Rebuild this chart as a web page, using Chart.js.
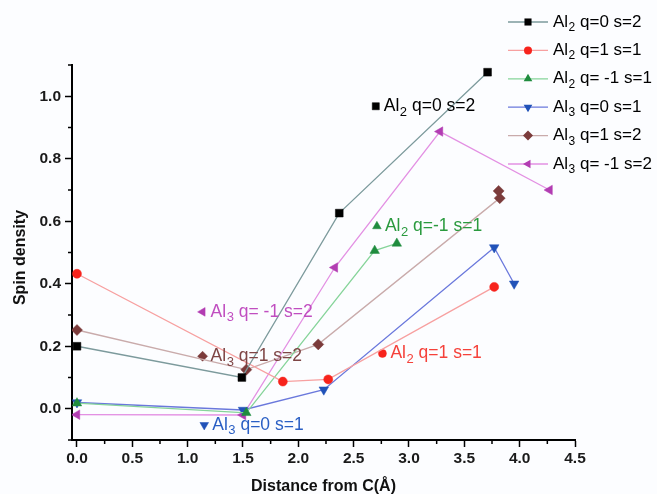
<!DOCTYPE html>
<html>
<head>
<meta charset="UTF-8">
<title>Spin density vs distance from C</title>
<script src="https://cdn.jsdelivr.net/npm/chart.js"></script>
<style>
  html, body { margin: 0; padding: 0; background: #fcfdff; }
  #wrap { width: 657px; height: 494px; }
</style>
</head>
<body>
<div id="wrap"><canvas id="spinChart"></canvas></div>
<script>
// distance from C (Å) / spin density, one pair of arrays per cluster state
const al2q0x  = [0.0, 1.49, 2.37, 3.71];
const al2q0y  = [0.20, 0.10, 0.626, 1.077];
const al2q1x  = [0.0, 1.86, 2.27, 3.77];
const al2q1y  = [0.432, 0.087, 0.094, 0.39];
const al2qm1x = [0.0, 1.53, 2.69, 2.89];
const al2qm1y = [0.018, -0.013, 0.506, 0.529];
const al3q0x  = [0.0, 1.50, 2.23, 3.77, 3.95];
const al3q0y  = [0.02, -0.004, 0.061, 0.516, 0.40];
const al3q1x  = [0.0, 1.53, 2.18, 3.82, 3.81];
const al3q1y  = [0.252, 0.125, 0.206, 0.674, 0.697];
const al3qm1x = [0.0, 1.50, 2.33, 3.28, 4.27];
const al3qm1y = [-0.019, -0.02, 0.452, 0.887, 0.70];

// legend names: "Al" + subscript + rest
const seriesSub  = ['2', '2', '2', '3', '3', '3'];
const seriesRest = [' q=0 s=2', ' q=1 s=1', ' q= -1 s=1', ' q=0 s=1', ' q=1 s=2', ' q= -1 s=2'];

// in-plot labels (data coords of the marker), which series they belong to
const noteSeries = [0, 2, 1, 4, 5, 3];
const noteX      = [2.70, 2.71, 2.76, 1.135, 1.135, 1.15];
const noteY      = [0.968, 0.584, 0.177, 0.168, 0.31, -0.052];
const noteRest   = [' q=0 s=2', ' q=-1 s=1', ' q=1 s=1', ' q=1 s=2', ' q= -1 s=2', ' q=0 s=1'];

// axis ticks
const xTickValues = [0, 0.25, 0.5, 0.75, 1, 1.25, 1.5, 1.75, 2, 2.25, 2.5, 2.75, 3, 3.25, 3.5, 3.75, 4, 4.25, 4.5];
const xTickLabels = ['0.0', '0.5', '1.0', '1.5', '2.0', '2.5', '3.0', '3.5', '4.0', '4.5'];
const yTickValues = [-0.1, 0, 0.1, 0.2, 0.3, 0.4, 0.5, 0.6, 0.7, 0.8, 0.9, 1.0, 1.1];
const yTickLabels = ['0.0', '0.2', '0.4', '0.6', '0.8', '1.0'];

const xTitle = 'Distance from C(Å)';
const yTitle = 'Spin density';

const xs = [al2q0x, al2q1x, al2qm1x, al3q0x, al3q1x, al3qm1x];
const ys = [al2q0y, al2q1y, al2qm1y, al3q0y, al3q1y, al3qm1y];

const lineColors   = ['#7c9a9c', '#f7a0a0', '#86d49a', '#6a78dc', '#c9abab', '#e390e3'];
const markColors   = ['#000000', '#f7231c', '#1f8c3e', '#2152b8', '#7b3b3b', '#b23cb2'];
const textColors   = ['#000000', '#f5413a', '#2a9a3e', '#2a5fc4', '#7e4545', '#c04ec0'];
const markStyles   = ['rect', 'circle', 'triangle', 'triangle', 'rectRot', 'triangle'];
const markRotation = [0, 0, 0, 180, 0, 270];
const markRadius   = [5.5, 4.5, 5.5, 5.5, 5.5, 5.5];

const FONT = '"Liberation Sans", Arial, sans-serif';

const datasets = xs.map((xv, i) => ({
  data: xv.map((x, j) => ({ x: x, y: ys[i][j] })),
  showLine: true,
  borderColor: lineColors[i],
  borderWidth: 1.3,
  pointStyle: markStyles[i],
  rotation: markRotation[i],
  pointRadius: markRadius[i],
  pointBackgroundColor: markColors[i],
  pointBorderColor: markColors[i],
  pointBorderWidth: 0.5
}));

// markers of the in-plot labels
noteSeries.forEach((s, k) => {
  datasets.push({
    data: [{ x: noteX[k], y: noteY[k] }],
    showLine: false,
    pointStyle: markStyles[s],
    rotation: markRotation[s],
    pointRadius: markRadius[s] - 0.5,
    pointBackgroundColor: markColors[s],
    pointBorderColor: markColors[s],
    pointBorderWidth: 0.5
  });
});

function nearly(a, b) { return Math.abs(a - b) < 1e-6; }
function isMajorX(v) { return xTickLabels.some(l => nearly(parseFloat(l), v)); }
function isMajorY(v) { return yTickLabels.some(l => nearly(parseFloat(l), v)); }

function drawAlText(ctx, x, y, sub, rest, color, size) {
  ctx.fillStyle = color;
  ctx.textBaseline = 'middle';
  ctx.textAlign = 'left';
  ctx.font = size + 'px ' + FONT;
  ctx.fillText('Al', x, y);
  let cx = x + ctx.measureText('Al').width;
  ctx.font = Math.round(size * 0.72) + 'px ' + FONT;
  ctx.fillText(sub, cx + 0.5, y + size * 0.33);
  cx += ctx.measureText(sub).width + 0.5;
  ctx.font = size + 'px ' + FONT;
  ctx.fillText(rest, cx, y);
}

function drawMarker(ctx, style, rot, r, x, y, color) {
  ctx.save();
  ctx.translate(x, y);
  ctx.rotate(rot * Math.PI / 180);
  ctx.fillStyle = color;
  ctx.beginPath();
  if (style === 'rect') {
    const h = r * Math.SQRT1_2;
    ctx.rect(-h, -h, 2 * h, 2 * h);
  } else if (style === 'circle') {
    ctx.arc(0, 0, r, 0, Math.PI * 2);
  } else if (style === 'rectRot') {
    ctx.moveTo(0, -r); ctx.lineTo(r, 0); ctx.lineTo(0, r); ctx.lineTo(-r, 0);
  } else {
    ctx.moveTo(0, -r);
    ctx.lineTo(r * Math.sin(Math.PI * 2 / 3), r / 2);
    ctx.lineTo(-r * Math.sin(Math.PI * 2 / 3), r / 2);
  }
  ctx.closePath();
  ctx.fill();
  ctx.restore();
}

const extras = {
  id: 'extras',
  afterDraw(chart) {
    const ctx = chart.ctx;
    const xs_ = chart.scales.x, ys_ = chart.scales.y;
    const area = chart.chartArea;
    ctx.save();
    // minor ticks
    ctx.strokeStyle = '#000';
    ctx.lineWidth = 1.5;
    xs_.ticks.forEach(t => {
      if (isMajorX(t.value)) return;
      const px = xs_.getPixelForValue(t.value);
      ctx.beginPath(); ctx.moveTo(px, xs_.top); ctx.lineTo(px, xs_.top + 4); ctx.stroke();
    });
    ys_.ticks.forEach(t => {
      if (isMajorY(t.value)) return;
      const py = ys_.getPixelForValue(t.value);
      ctx.beginPath(); ctx.moveTo(ys_.right, py); ctx.lineTo(ys_.right - 4, py); ctx.stroke();
    });

    // axis titles
    ctx.fillStyle = '#111';
    ctx.font = 'bold 16px ' + FONT;
    ctx.textAlign = 'center';
    ctx.textBaseline = 'middle';
    ctx.fillText(xTitle, (area.left + area.right) / 2, 487);
    ctx.save();
    ctx.translate(21, (area.top + area.bottom) / 2 + 5);
    ctx.rotate(-Math.PI / 2);
    ctx.fillText(yTitle, 0, 0);
    ctx.restore();

    // in-plot labels
    noteSeries.forEach((s, k) => {
      const px = xs_.getPixelForValue(noteX[k]);
      const py = ys_.getPixelForValue(noteY[k]);
      drawAlText(ctx, px + 8, py, seriesSub[s], noteRest[k], textColors[s], 17.5);
    });

    // legend
    const lx0 = 508, lx1 = 548, ly0 = 22, step = 28.4;
    seriesRest.forEach((rest, i) => {
      const y = ly0 + i * step;
      ctx.strokeStyle = lineColors[i];
      ctx.lineWidth = 1.3;
      ctx.beginPath(); ctx.moveTo(lx0, y); ctx.lineTo(lx1, y); ctx.stroke();
      drawMarker(ctx, markStyles[i], markRotation[i], markRadius[i] - 0.5, (lx0 + lx1) / 2, y, markColors[i]);
      drawAlText(ctx, 553, y, seriesSub[i], rest, '#000', 17);
    });
    ctx.restore();
  }
};

new Chart(document.getElementById('spinChart'), {
  type: 'scatter',
  data: { datasets: datasets },
  options: {
    responsive: true,
    maintainAspectRatio: false,
    animation: false,
    events: [],
    layout: { padding: { left: 0, right: 82, top: 65, bottom: 0 } },
    plugins: { legend: { display: false }, tooltip: { enabled: false } },
    scales: {
      x: {
        type: 'linear',
        min: -0.045,
        max: 4.5,
        afterBuildTicks: s => { s.ticks = xTickValues.map(v => ({ value: v })); },
        afterFit: s => { s.height = 54; },
        border: { display: true, color: '#000', width: 2 },
        grid: {
          drawOnChartArea: false,
          drawTicks: true,
          tickLength: 7,
          tickWidth: 1.5,
          color: c => (c.tick && isMajorX(c.tick.value)) ? '#000' : 'rgba(0,0,0,0)'
        },
        ticks: {
          autoSkip: false,
          maxRotation: 0,
          padding: 2,
          color: '#1a1a1a',
          font: { family: FONT, size: 15.5, weight: 'bold' },
          callback: v => isMajorX(v) ? xTickLabels.find(l => nearly(parseFloat(l), v)) : ''
        }
      },
      y: {
        type: 'linear',
        min: -0.1,
        max: 1.1,
        afterBuildTicks: s => { s.ticks = yTickValues.map(v => ({ value: v })); },
        afterFit: s => { s.width = 72; },
        border: { display: true, color: '#000', width: 2 },
        grid: {
          drawOnChartArea: false,
          drawTicks: true,
          tickLength: 7,
          tickWidth: 1.5,
          color: c => (c.tick && isMajorY(c.tick.value)) ? '#000' : 'rgba(0,0,0,0)'
        },
        ticks: {
          autoSkip: false,
          padding: 4,
          color: '#1a1a1a',
          font: { family: FONT, size: 15.5, weight: 'bold' },
          callback: v => isMajorY(v) ? yTickLabels.find(l => nearly(parseFloat(l), v)) : ''
        }
      }
    }
  },
  plugins: [extras]
});
</script>
</body>
</html>
